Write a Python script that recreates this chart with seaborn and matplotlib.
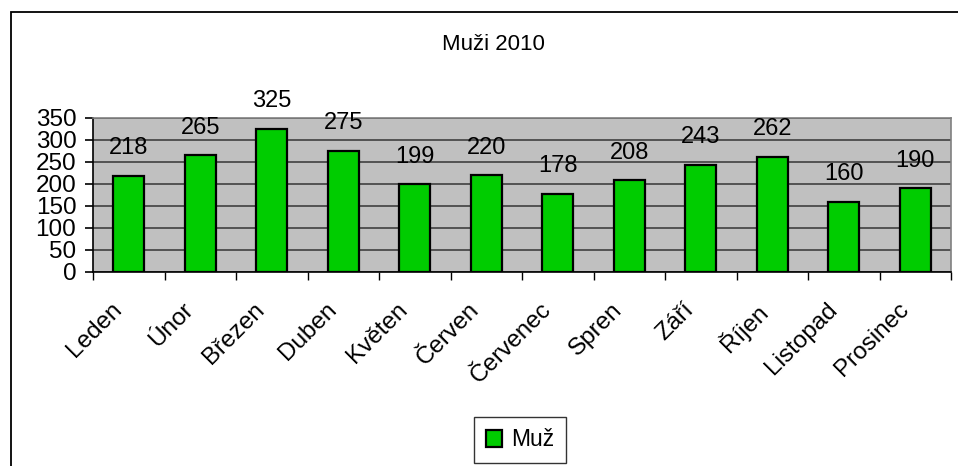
import matplotlib
matplotlib.use("Agg")
import matplotlib.pyplot as plt
import matplotlib.transforms as mtransforms
import seaborn as sns
import pandas as pd
from matplotlib.patches import Rectangle

months = ["Leden", "Únor", "Březen", "Duben", "Květen", "Červen", "Červenec",
          "Spren", "Září", "Říjen", "Listopad", "Prosinec"]
values = [218, 265, 325, 275, 199, 220, 178, 208, 243, 262, 160, 190]
series_name = "Muž"
title = "Muži 2010"
yticks = [0, 50, 100, 150, 200, 250, 300, 350]

sns.set_theme(style="white")
plt.rcParams['font.family'] = ['Liberation Sans', 'DejaVu Sans']
plt.rcParams['text.color'] = 'black'
plt.rcParams['xtick.color'] = 'black'
plt.rcParams['ytick.color'] = 'black'
plt.rcParams['xtick.labelcolor'] = 'black'
plt.rcParams['ytick.labelcolor'] = 'black'

df = pd.DataFrame({"month": months, "value": values})

W, H = 958, 466
fig = plt.figure(figsize=(W / 100, H / 100), dpi=100)
fig.patch.set_facecolor("white")

# outer chart frame (extends beyond right/bottom edge)
fig.patches.append(Rectangle((11 / W, -0.1), 1.2, (H - 12) / H + 0.1,
                             transform=fig.transFigure, fill=False,
                             edgecolor="black", linewidth=1.3, zorder=0))

ax = fig.add_axes([93 / W, (H - 272) / H, (951 - 93) / W, (272 - 118) / H])
ax.set_facecolor("#C0C0C0")

sns.barplot(data=df, x="month", y="value", color="#00CC00", width=0.43,
            edgecolor="black", linewidth=1.6, saturation=1, label=series_name,
            ax=ax, zorder=3)
handles, labels = ax.get_legend_handles_labels()
if ax.get_legend() is not None:
    ax.get_legend().remove()

ax.set_ylim(0, 350)
ax.set_xlim(-0.5, len(months) - 0.5)
ax.set_yticks(yticks)
ax.set_yticklabels([str(t) for t in yticks], fontsize=17.5, color="black")
ax.yaxis.grid(True, color="#404040", linewidth=1.2, zorder=1)
ax.set_axisbelow(True)
ax.tick_params(axis="y", length=6, width=1.2, color="black", pad=6,
               direction="out", left=True)

# x ticks at category boundaries
ax.set_xticks([i - 0.5 for i in range(len(months) + 1)], minor=False)
ax.set_xticklabels([])
ax.tick_params(axis="x", length=6, width=1, color="black", bottom=True)
ax.set_xticks(range(len(months)), minor=True)
ax.set_xticklabels(months, minor=True, rotation=45, ha="right",
                   rotation_mode="anchor", fontsize=17.5, color="black")
ax.tick_params(axis="x", which="minor", length=0, pad=19)
shift = mtransforms.ScaledTranslation(-18 / 100, 0, fig.dpi_scale_trans)
for lbl in ax.get_xticklabels(minor=True):
    lbl.set_transform(lbl.get_transform() + shift)

ax.set_xlabel("")
ax.set_ylabel("")

for side in ["top", "right"]:
    ax.spines[side].set_color("#808080")
    ax.spines[side].set_linewidth(1.2)
for side in ["left", "bottom"]:
    ax.spines[side].set_color("black")
    ax.spines[side].set_linewidth(1.2)

for i, v in enumerate(values):
    ax.annotate(str(v), (i, v), xytext=(0, 12), textcoords="offset points",
                ha="center", va="bottom", fontsize=17, color="black",
                annotation_clip=False)

fig.text(493 / W, 1 - 44 / H, title, ha="center", va="center", fontsize=16,
         color="black")

leg = fig.legend(handles, labels, loc="center", bbox_to_anchor=(520 / W, 1 - 440 / H),
                 fontsize=16.5, frameon=True, fancybox=False, edgecolor="black",
                 handlelength=0.7, handleheight=0.7, handletextpad=0.4,
                 borderpad=0.5, labelcolor="black")
leg.get_frame().set_linewidth(1.0)

fig.savefig("out.png", dpi=100)
